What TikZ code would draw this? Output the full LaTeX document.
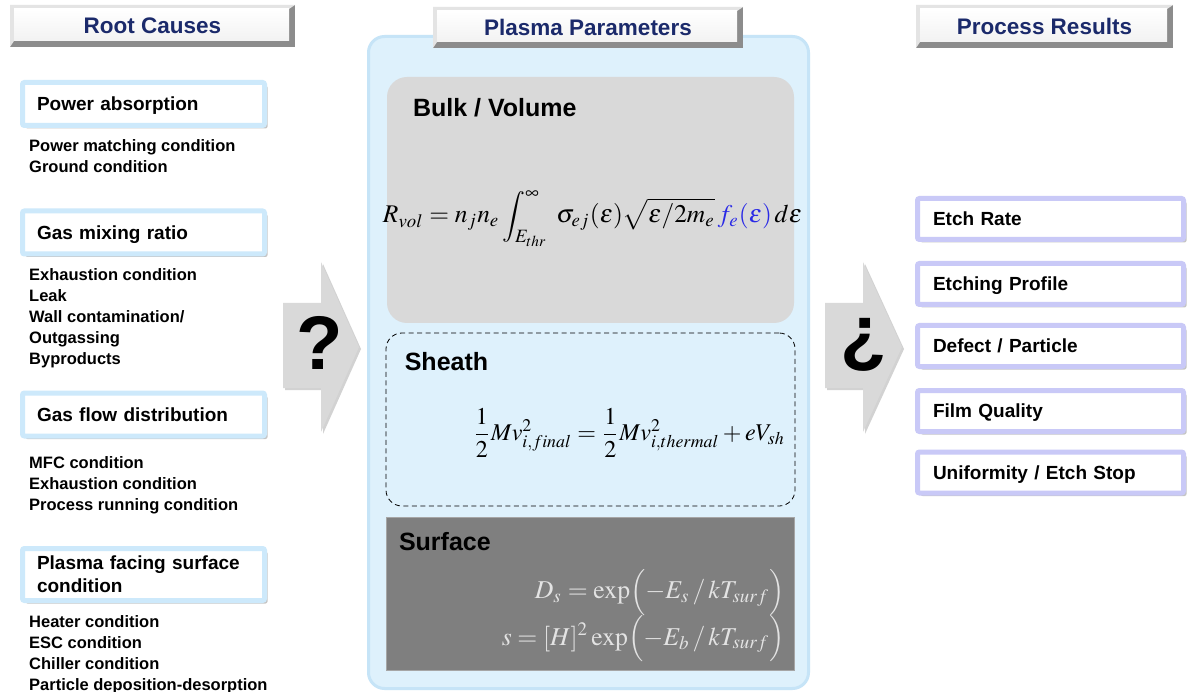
\documentclass[tikz,border=0pt]{standalone}
\usepackage{mathptmx}
\usepackage{amsmath}
\usepackage{graphicx}
\usepackage[no-math]{fontspec}
\setmainfont{Liberation Sans}
\usepackage{xcolor}
\definecolor{navyhead}{HTML}{1B2A6B}
\definecolor{skyedge}{HTML}{CDE9FB}
\definecolor{lavedge}{HTML}{C9C9F7}
\definecolor{panelfill}{HTML}{DEF1FC}
\definecolor{paneledge}{HTML}{C6E4F7}
\definecolor{bulkgray}{HTML}{D9D9D9}
\definecolor{surfgray}{HTML}{7F7F7F}
\definecolor{formlight}{HTML}{E3E3E3}
\definecolor{arrowgray}{HTML}{D9D9D9}
\definecolor{bevdark}{HTML}{8C8C8C}
\definecolor{bevlight}{HTML}{E4E4E4}
\definecolor{fblue}{HTML}{2A2AE6}
\usepackage{tikz}
\usetikzlibrary{positioning, shadows}
\tikzset{
    header/.style = {fill=bevdark, inner sep=0pt, text=navyhead,
                     font=\fontsize{22.5}{26}\selectfont\bfseries,
                     path picture={
                       \fill[bevlight] (path picture bounding box.north west) -- (path picture bounding box.north east)
                         -- ([xshift=-6pt,yshift=-4pt]path picture bounding box.north east)
                         -- ([xshift=4pt,yshift=-4pt]path picture bounding box.north west)
                         -- ([xshift=4pt,yshift=6pt]path picture bounding box.south west)
                         -- (path picture bounding box.south west) -- cycle;
                       \shade[top color=white, bottom color=gray!10]
                         ([xshift=4pt,yshift=-4pt]path picture bounding box.north west)
                         rectangle ([xshift=-6pt,yshift=6pt]path picture bounding box.south east);}},
    causebox/.style = {draw=skyedge, line width=5pt, fill=white, rounded corners=2pt,
                       drop shadow={shadow xshift=3pt, shadow yshift=-3pt, opacity=0.45},
                       minimum width=242pt, minimum height=43pt, text width=213pt,
                       text height=13.7pt, text depth=0pt,
                       inner xsep=14.5pt, align=left, font=\fontsize{19}{23}\selectfont\bfseries},
    resultbox/.style = {draw=lavedge, line width=5pt, fill=white, rounded corners=2pt,
                        drop shadow={shadow xshift=3pt, shadow yshift=-3pt, opacity=0.45},
                        minimum width=266pt, minimum height=41pt, text width=235pt,
                        text height=13.7pt, text depth=0pt,
                        inner xsep=15.5pt, align=left, font=\fontsize{19}{23}\selectfont\bfseries},
    subtext/.style = {anchor=north west, inner sep=0pt, align=left,
                      font=\fontsize{16.5}{21}\selectfont\bfseries},
    region/.style = {inner sep=0pt},
    regiontitle/.style = {anchor=north west, inner sep=0pt, font=\fontsize{25}{28}\selectfont\bfseries},
    formula/.style = {inner sep=0pt},
    bigarrow/.style = {fill=arrowgray, drop shadow={shadow xshift=2pt, shadow yshift=-2pt, opacity=0.35}},
    qmark/.style = {inner sep=0pt, font=\fontsize{76}{80}\selectfont\bfseries},
}

\begin{document}
\begin{tikzpicture}[x=1pt, y=-1pt]
        \useasboundingbox[fill=white] (0,0) rectangle (1188,692);
        % middle panel
        \node[region, fill=panelfill, draw=paneledge, line width=3pt, rounded corners=16pt,
              minimum width=440pt, minimum height=652pt] (panel) at (588.5,362.5) {};
        \node[region, fill=bulkgray, rounded corners=20pt,
              minimum width=407pt, minimum height=246pt] (bulk) at (590.5,200) {};
        \node[region, draw=black, thick, dash pattern=on 5pt off 3.5pt, rounded corners=16pt,
              minimum width=409pt, minimum height=173pt] (sheath) at (590.5,419.5) {};
        \node[region, fill=surfgray, draw=gray!70,
              minimum width=408pt, minimum height=153pt] (surface) at (590,593.5) {};
        \node[regiontitle] (bulktitle) at ([xshift=26pt,yshift=-21pt]bulk.north west) {Bulk / Volume};
        \node[regiontitle] (sheathtitle) at ([xshift=19pt,yshift=-20pt]sheath.north west) {Sheath};
        \node[regiontitle] (surftitle) at ([xshift=13pt,yshift=-15pt]surface.north west) {Surface};
        % equations
        \node[formula] (bulkeq) at (592.5,219) {\resizebox{419pt}{!}{$\displaystyle
            R_{vol} = n_j n_e\int_{E_{thr}}^{\infty}\;\sigma_{ej}(\varepsilon)\sqrt{\varepsilon/2m_e}\,
            {\color{fblue}f_e(\varepsilon)}\,d\varepsilon$}};
        \node[formula] (sheatheq) at (629,433) {\resizebox{312pt}{!}{$\displaystyle
            \frac{1}{2}Mv_{i,final}^{2} = \frac{1}{2}Mv_{i,thermal}^{2} + eV_{sh}$}};
        \node[formula, anchor=east, text=formlight] (surfeq) at (785,615.5) {\resizebox{283pt}{!}{$
            \begin{array}{@{}r@{}}
              D_s = \exp\Bigl(-E_s \,/\, kT_{surf}\Bigr)\\[1pt]
              s = [H]^2\exp\Bigl(-E_b \,/\, kT_{surf}\Bigr)
            \end{array}$}};
        % headers
        \node[header, minimum width=285pt, minimum height=42pt] (rootcause) at (152.5,26) {Root Causes};
        \node[header, minimum width=310pt, minimum height=41pt] (plasmapar) at (588,27.5) {Plasma Parameters};
        \node[header, minimum width=257pt, minimum height=43pt] (procres) at (1044.5,26.5) {Process Results};
        % root causes
        \node[causebox] (power) at (143.5,104) {Power absorption};
        \node[subtext] (powersub) at ([xshift=9pt,yshift=-11pt]power.south west)
            {Power matching condition\\Ground condition};
        \node[causebox] (gasmix) at (143.5,232.5) {Gas mixing ratio};
        \node[subtext] (gasmixsub) at ([xshift=9pt,yshift=-12pt]gasmix.south west)
            {Exhaustion condition\\Leak\\Wall contamination/\\Outgassing\\Byproducts};
        \node[causebox] (gasflow) at (143.5,414.5) {Gas flow distribution};
        \node[subtext] (gasflowsub) at ([xshift=9pt,yshift=-18pt]gasflow.south west)
            {MFC condition\\Exhaustion condition\\Process running condition};
        \node[causebox, minimum height=52pt, text height={}, text depth={}] (pfsurf) at (143.5,574.5)
            {Plasma facing surface\\condition};
        \node[subtext] (pfsurfsub) at ([xshift=9pt,yshift=-12pt]pfsurf.south west)
            {Heater condition\\ESC condition\\Chiller condition\\Particle deposition-desorption};
        % arrows
        \fill[bigarrow] (283,303) -- (321,303) -- (321,262) -- (359,347) -- (321,432) -- (321,388) -- (283,388) -- cycle;
        \node[qmark] (qleft) at (320,343) {?};
        \fill[bigarrow] (825,303) -- (863,303) -- (863,262) -- (902,347) -- (863,432) -- (863,388) -- (825,388) -- cycle;
        \node[qmark] (qright) at (864,345) {¿};
        % process results
        \node[resultbox] (etch) at (1050.5,219) {Etch Rate};
        \node[resultbox] (profile) at (1050.5,284) {Etching Profile};
        \node[resultbox] (defect) at (1050.5,346) {Defect / Particle};
        \node[resultbox] (film) at (1050.5,411) {Film Quality};
        \node[resultbox] (unif) at (1050.5,472.5) {Uniformity / Etch Stop};
      \end{tikzpicture}
\end{document}
